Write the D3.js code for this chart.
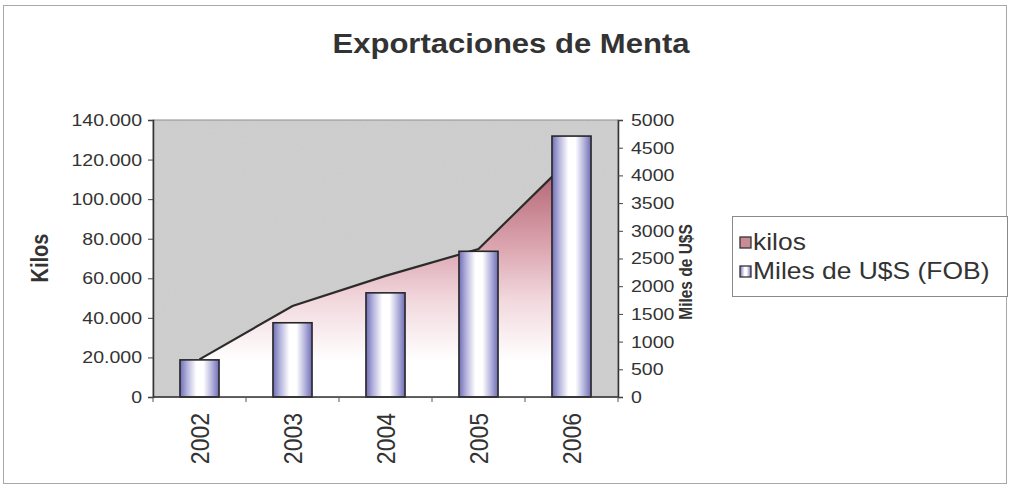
<!DOCTYPE html>
<html>
<head>
<meta charset="utf-8">
<script src="https://cdn.jsdelivr.net/npm/d3@7"></script>
<style>
  html, body { margin: 0; padding: 0; background: #ffffff; }
  svg { display: block; font-family: "Liberation Sans", Arial, sans-serif; }
</style>
</head>
<body>
<svg id="chart" width="1011" height="495"></svg>
<script>
// Exportaciones de menta por año
const years = ["2002", "2003", "2004", "2005", "2006"];
const kilos = [19000, 46000, 61200, 74800, 121000];
const milesUSD = [670, 1340, 1880, 2630, 4710];
const kilosTicks = [0, 20000, 40000, 60000, 80000, 100000, 120000, 140000];
const usdTicks = [0, 500, 1000, 1500, 2000, 2500, 3000, 3500, 4000, 4500, 5000];

const svg = d3.select("#chart");
const plot = { left: 153, right: 618, top: 120, bottom: 397 };
const stretch = 1.15;   // text is drawn slightly wide

const x = d3.scaleBand().domain(years).range([plot.left, plot.right]).padding(0);
const yL = d3.scaleLinear().domain([0, 140000]).range([plot.bottom, plot.top]);
const yR = d3.scaleLinear().domain([0, 5000]).range([plot.bottom, plot.top]);
const cx = d => x(d) + x.bandwidth() / 2;
const barW = x.bandwidth() * 0.42;

const defs = svg.append("defs");
const areaGrad = defs.append("linearGradient").attr("id", "areaGrad")
  .attr("x1", 0).attr("y1", 0).attr("x2", 0).attr("y2", 1);
[[0, "#ad5a69"], [0.38, "#dca7b1"], [0.6, "#f2d9de"], [0.85, "#ffffff"], [1, "#ffffff"]]
  .forEach(([o, c]) => areaGrad.append("stop").attr("offset", o).attr("stop-color", c));

const barGrad = defs.append("linearGradient").attr("id", "barGrad")
  .attr("x1", 0).attr("y1", 0).attr("x2", 1).attr("y2", 0);
[[0, "#6f6db4"], [0.18, "#b3b2dc"], [0.42, "#ffffff"], [0.6, "#ffffff"], [0.82, "#b3b2dc"], [1, "#6f6db4"]]
  .forEach(([o, c]) => barGrad.append("stop").attr("offset", o).attr("stop-color", c));

// speckled texture for the plot background
const noise = defs.append("filter").attr("id", "noise").attr("x", 0).attr("y", 0).attr("width", 1).attr("height", 1);
noise.append("feTurbulence").attr("type", "fractalNoise").attr("baseFrequency", 0.9).attr("numOctaves", 1).attr("seed", 3).attr("result", "t");
noise.append("feColorMatrix").attr("type", "matrix")
  .attr("values", "0 0 0 0 0.55  0 0 0 0 0.55  0 0 0 0 0.55  0 0 0 1.6 -0.75");

// outer frame
svg.append("rect").attr("x", 3.5).attr("y", 5.5).attr("width", 1003).attr("height", 478)
  .attr("fill", "#ffffff").attr("stroke", "#a8a8a8").attr("stroke-width", 1);

// title
svg.append("text").attr("x", 511).attr("y", 53).attr("text-anchor", "middle")
  .attr("font-size", 28).attr("font-weight", "bold").attr("fill", "#333")
  .attr("textLength", 357).attr("lengthAdjust", "spacingAndGlyphs")
  .text("Exportaciones de Menta");

// plot area
svg.append("rect").attr("x", plot.left).attr("y", plot.top)
  .attr("width", plot.right - plot.left).attr("height", plot.bottom - plot.top)
  .attr("fill", "#cecece").attr("stroke", "#8c8c8c").attr("stroke-width", 1);
svg.append("rect").attr("x", plot.left).attr("y", plot.top)
  .attr("width", plot.right - plot.left).attr("height", plot.bottom - plot.top)
  .attr("filter", "url(#noise)").attr("opacity", 0.5);

// kilos area
const pts = years.map((yr, i) => ({ yr, v: kilos[i] }));
svg.append("path").datum(pts)
  .attr("d", d3.area().x(d => cx(d.yr)).y0(yL(0)).y1(d => yL(d.v)))
  .attr("fill", "url(#areaGrad)");
svg.append("path").datum(pts)
  .attr("d", d3.line().x(d => cx(d.yr)).y(d => yL(d.v)))
  .attr("fill", "none").attr("stroke", "#2b2b2b").attr("stroke-width", 2.2);

// value columns
svg.selectAll("rect.bar").data(years).join("rect").attr("class", "bar")
  .attr("x", d => cx(d) - barW / 2)
  .attr("y", (d, i) => yR(milesUSD[i]))
  .attr("width", barW)
  .attr("height", (d, i) => yR(0) - yR(milesUSD[i]))
  .attr("fill", "url(#barGrad)").attr("stroke", "#262626").attr("stroke-width", 1.6);

const fmtK = d => d3.format(",")(d).replace(/,/g, ".");

// left axis
const gL = svg.append("g").attr("transform", `translate(${plot.left},0)`)
  .call(d3.axisLeft(yL).tickValues(kilosTicks).tickFormat(fmtK).tickSize(5).tickPadding(6));
gL.selectAll("text").attr("font-size", 17).attr("fill", "#333")
  .attr("transform", `scale(${stretch},1)`).attr("x", -11 / stretch);

// right axis
const gR = svg.append("g").attr("transform", `translate(${plot.right},0)`)
  .call(d3.axisRight(yR).tickValues(usdTicks).tickFormat(d3.format("d")).tickSize(5).tickPadding(6));
gR.selectAll("text").attr("font-size", 17).attr("fill", "#333")
  .attr("transform", `scale(${stretch},1)`).attr("x", 13 / stretch);

[gL, gR].forEach(g => {
  g.select(".domain").attr("stroke", "#333").attr("stroke-width", 1.5);
  g.selectAll(".tick line").attr("stroke", "#444");
});

// category axis
svg.append("line").attr("x1", plot.left).attr("x2", plot.right)
  .attr("y1", plot.bottom).attr("y2", plot.bottom)
  .attr("stroke", "#333").attr("stroke-width", 1.6);
const bounds = years.map(d => x(d)).concat([plot.right]);
svg.selectAll("line.xtick").data(bounds).join("line").attr("class", "xtick")
  .attr("x1", d => d).attr("x2", d => d)
  .attr("y1", plot.bottom).attr("y2", plot.bottom + 5)
  .attr("stroke", "#555");
svg.selectAll("text.year").data(years).join("text").attr("class", "year")
  .attr("transform", d => `translate(${cx(d)},${plot.bottom + 16}) scale(${stretch},1) rotate(-90)`)
  .attr("text-anchor", "end").attr("dy", "0.35em")
  .attr("font-size", 23).attr("fill", "#333")
  .text(d => d);

// axis titles
svg.append("text")
  .attr("transform", `translate(48,258) scale(${stretch},1) rotate(-90)`)
  .attr("text-anchor", "middle").attr("font-size", 20).attr("font-weight", "bold").attr("fill", "#333")
  .text("Kilos");
svg.append("text")
  .attr("transform", `translate(692,272) scale(${stretch},1) rotate(-90)`)
  .attr("text-anchor", "middle").attr("font-size", 15.5).attr("font-weight", "bold").attr("fill", "#333")
  .text("Miles de U$S");

// legend
const legend = svg.append("g");
legend.append("rect").attr("x", 732.5).attr("y", 216.5).attr("width", 275).attr("height", 80)
  .attr("fill", "#ffffff").attr("stroke", "#8a8a8a").attr("stroke-width", 1);
const legendItems = [
  { label: "kilos", fill: "#c98c97" },
  { label: "Miles de U$S (FOB)", fill: "url(#barGrad)" }
];
legendItems.forEach((it, i) => {
  const yy = 242 + i * 29;
  legend.append("rect").attr("x", 740).attr("y", yy - 5).attr("width", 11).attr("height", 11)
    .attr("fill", it.fill).attr("stroke", "#333").attr("stroke-width", 1.3);
  legend.append("text").attr("transform", `translate(753,${yy}) scale(${stretch},1)`)
    .attr("dy", "0.36em").attr("font-size", 23).attr("fill", "#333")
    .text(it.label);
});
</script>
</body>
</html>
